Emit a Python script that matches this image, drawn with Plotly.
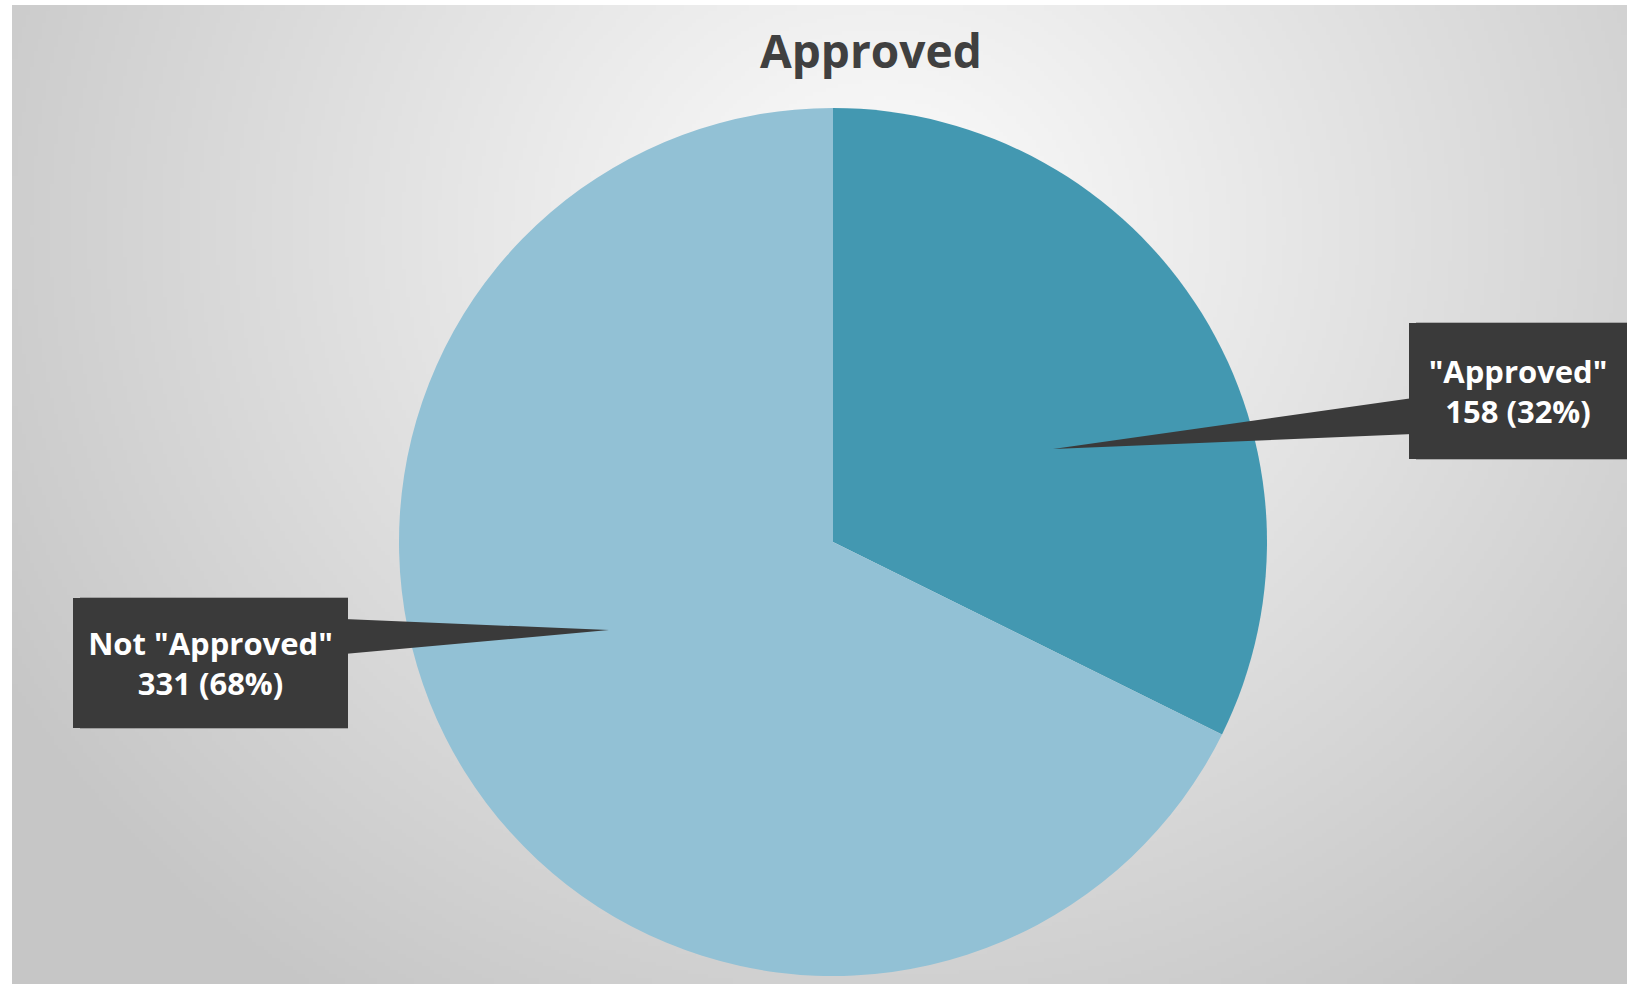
import base64
import struct
import zlib

import numpy as np
import plotly.graph_objects as go

# ---------------- data ----------------
categories = ['"Approved"', 'Not "Approved"']
counts = [158, 331]
slice_colors = ["#4398B1", "#92C1D5"]
chart_title = "Approved"

total = sum(counts)
label_texts = [f"{c}<br>{n} ({round(n / total * 100)}%)" for c, n in zip(categories, counts)]

FW, FH = 1627, 984


def px(x):
    return x / FW


def py(y):
    return 1 - y / FH


# ---------------- background gradient image ----------------
def gradient_png(w, h):
    xs = np.linspace(12, FW, w)
    ys = np.linspace(5, FH, h)
    X, Y = np.meshgrid(xs, ys)
    d = np.sqrt(((X - 880) / 1000.0) ** 2 + ((Y - 230) / 920.0) ** 2)
    c = np.clip(253 - 54 * d, 198, 255).astype(np.uint8)
    raw = b"".join(b"\x00" + row.tobytes() for row in c)

    def chunk(t, data):
        return (struct.pack(">I", len(data)) + t + data
                + struct.pack(">I", zlib.crc32(t + data) & 0xFFFFFFFF))

    png = b"\x89PNG\r\n\x1a\n"
    png += chunk(b"IHDR", struct.pack(">IIBBBBB", w, h, 8, 0, 0, 0, 0))
    png += chunk(b"IDAT", zlib.compress(raw, 9))
    png += chunk(b"IEND", b"")
    return "data:image/png;base64," + base64.b64encode(png).decode()


bg_src = gradient_png(400, 243)

# ---------------- pie ----------------
cx, cy, r = 833, 542, 434
fig = go.Figure(
    go.Pie(
        labels=categories,
        values=counts,
        sort=False,
        direction="clockwise",
        rotation=0,
        marker=dict(colors=slice_colors, line=dict(width=0)),
        textinfo="none",
        hoverinfo="label+value+percent",
        showlegend=False,
        domain=dict(x=[px(cx - r), px(cx + r)], y=[py(cy + r), py(cy - r)]),
    )
)

# ---------------- callout labels ----------------
BOX = "#3A3A3A"
boxes = [
    dict(rect=(1413, 319, 1623, 455), base_x=1413, base=(398, 434), tip=(1053, 449)),
    dict(rect=(77, 594, 344, 724), base_x=344, base=(619, 654), tip=(609, 630)),
]

shapes = []
annotations = []
for b, txt in zip(boxes, label_texts):
    x0, y0, x1, y1 = b["rect"]
    # soft shadow
    shapes.append(dict(type="rect", xref="paper", yref="paper",
                       x0=px(x0 + 3), x1=px(x1 + 4), y0=py(y1 + 5), y1=py(y0 + 3),
                       fillcolor="rgba(0,0,0,0.22)", line=dict(width=0), layer="above"))
    # pointer wedge
    bx = b["base_x"]
    (ya, yb), (tx, ty) = b["base"], b["tip"]
    path = f"M {px(bx)} {py(ya)} L {px(tx)} {py(ty)} L {px(bx)} {py(yb)} Z"
    shapes.append(dict(type="path", xref="paper", yref="paper", path=path,
                       fillcolor=BOX, line=dict(width=0), layer="above"))
    annotations.append(dict(
        x=px((x0 + x1) / 2), y=py((y0 + y1) / 2 + 4), xref="paper", yref="paper",
        xanchor="center", yanchor="middle",
        text=f"<b>{txt}</b>", showarrow=False, align="center", valign="middle",
        width=x1 - x0, height=y1 - y0 - 8, bgcolor=BOX, borderpad=4, borderwidth=0,
        font=dict(family="Open Sans, sans-serif", size=31, color="#FFFFFF"),
    ))

# title
annotations.append(dict(
    x=px(871), y=py(50), xref="paper", yref="paper", xanchor="center", yanchor="middle",
    text=f"<b>{chart_title}</b>", showarrow=False,
    font=dict(family="Open Sans, sans-serif", size=46, color="#404040"),
))

fig.update_layout(
    width=FW, height=FH,
    margin=dict(l=0, r=0, t=0, b=0),
    paper_bgcolor="#FFFFFF",
    plot_bgcolor="rgba(0,0,0,0)",
    images=[dict(source=bg_src, xref="paper", yref="paper",
                 x=px(12), y=py(5), sizex=px(FW) - px(12), sizey=py(5) - py(FH),
                 xanchor="left", yanchor="top", sizing="stretch", layer="below")],
    shapes=shapes,
    annotations=annotations,
)

fig.write_html(
    "out.html",
    config={"displayModeBar": False},
    post_script="document.body.style.margin='0px';document.body.style.overflow='hidden';",
)
